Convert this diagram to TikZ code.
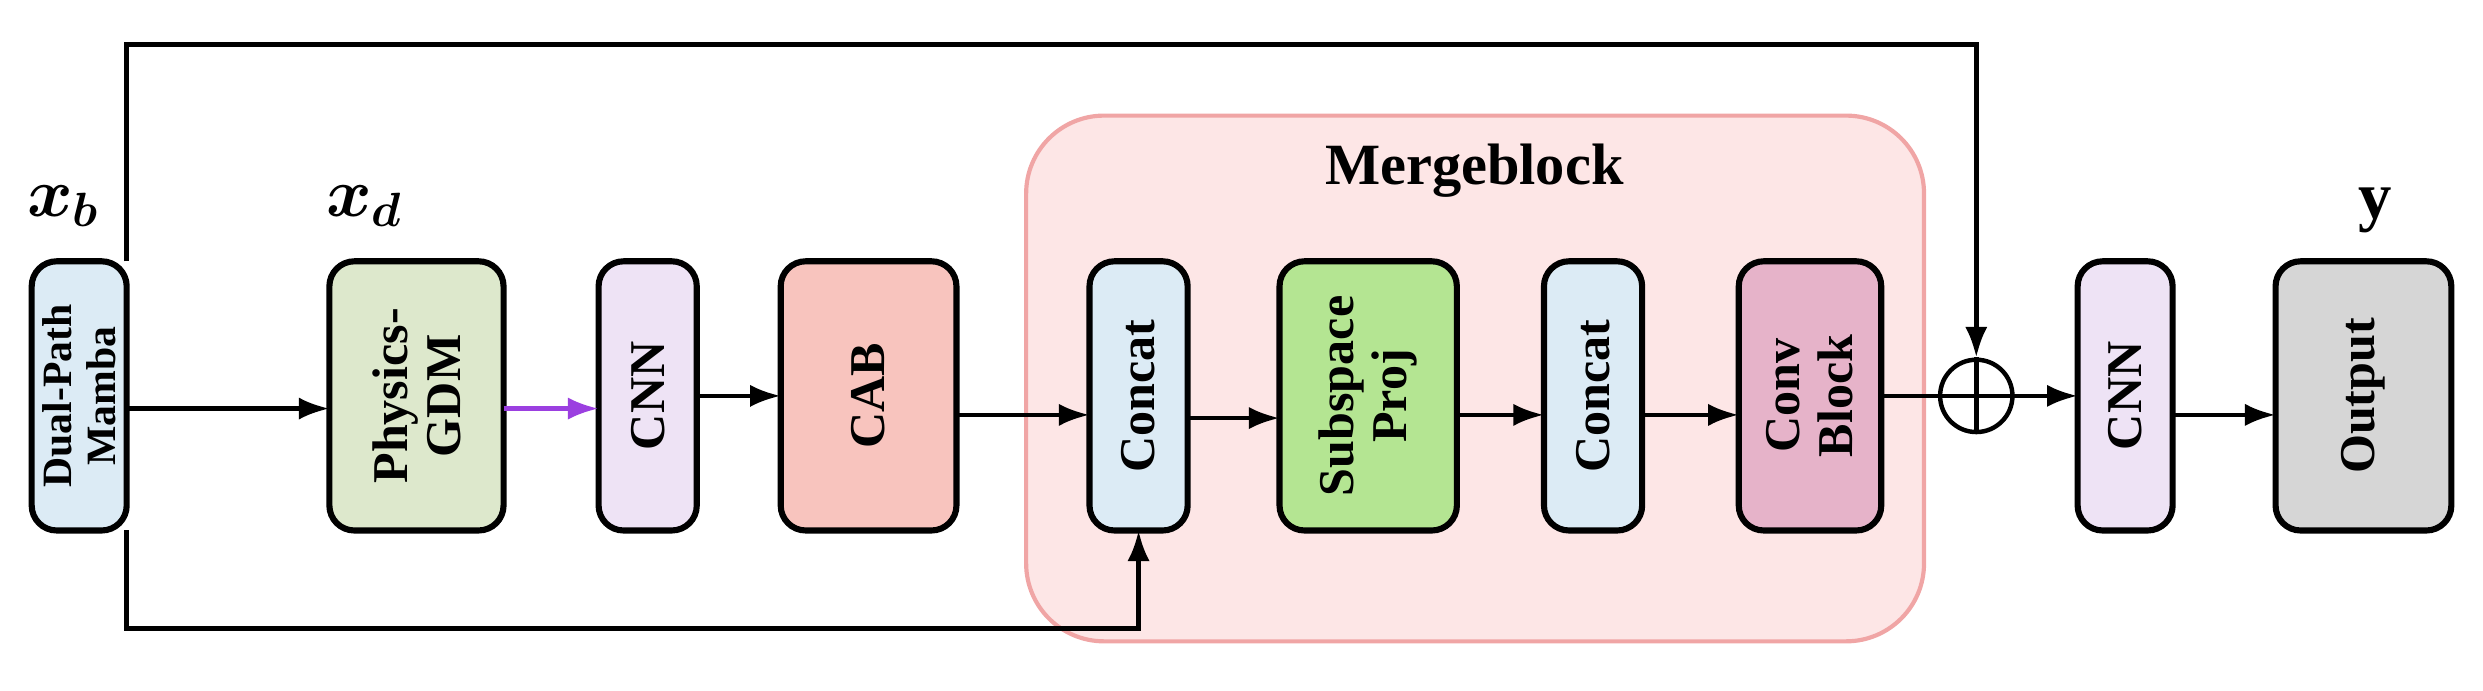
\documentclass[tikz,border=0pt]{standalone}
\usepackage{bm}
\usepackage{fontspec}
\setmainfont{Liberation Serif}
\usetikzlibrary{arrows.meta,calc}
\definecolor{cblue}{HTML}{DCEBF5}
\definecolor{cgreen}{HTML}{DDE8CC}
\definecolor{clav}{HTML}{EEE3F5}
\definecolor{csal}{HTML}{F8C4BE}
\definecolor{csub}{HTML}{B4E592}
\definecolor{cconv}{HTML}{E6B3C9}
\definecolor{cgray}{HTML}{D6D6D6}
\definecolor{mfill}{HTML}{FDE6E6}
\definecolor{mdraw}{HTML}{F0A5A5}
\definecolor{cpurp}{HTML}{9B3FE0}
\begin{document}
\begin{tikzpicture}[x=0.02cm,y=-0.02cm,
  blk/.style={draw,line width=2.2pt,rounded corners=9pt,inner sep=0pt},
  lbl/.style={rotate=90,font=\fontsize{18}{19}\selectfont\bfseries,align=center},
  arr/.style={-{Latex[length=11pt,width=8pt]},line width=1.6pt},
  ln/.style={line width=1.6pt}]
\useasboundingbox (0,0) rectangle (1568,436);
\fill[mfill,draw=mdraw,line width=1.5pt,rounded corners=28pt] (648,73) rectangle (1215,405);
\node[font=\fontsize{21}{22}\selectfont\bfseries] (mt) at (931,108) {Mergeblock};
\newcommand{\blkat}[6]{\path[blk,fill=#2] (#3,165) rectangle (#4,335);
  \node[lbl,#6] (#1) at ({(#3+#4)/2},250) {#5};
  \coordinate (#1w) at (#3,250); \coordinate (#1e) at (#4,250);
  \coordinate (#1b) at ({(#3+#4)/2},335);}
\blkat{mamba}{cblue}{20}{80}{Dual-Path\\Mamba}{font=\fontsize{15}{16}\selectfont\bfseries}
\blkat{phys}{cgreen}{208}{318}{Physics-\\GDM}{}
\blkat{cnna}{clav}{378}{440}{CNN}{}
\blkat{cab}{csal}{493}{604}{CAB}{}
\blkat{cat1}{cblue}{688}{750}{Concat}{}
\blkat{sub}{csub}{808}{920}{Subspace\\Proj}{}
\blkat{cat2}{cblue}{975}{1037}{Concat}{}
\blkat{conv}{cconv}{1098}{1188}{Conv\\Block}{}
\blkat{cnnb}{clav}{1312}{1372}{CNN}{}
\blkat{out}{cgray}{1437}{1548}{Output}{}
\node[circle,draw,line width=1.6pt,minimum size=26pt,inner sep=0pt] (plus) at (1248,250) {};
\draw[ln] (plus.north)--(plus.south) (plus.west)--(plus.east);
\node[font=\fontsize{24}{24}\selectfont] (xb) at (40,130) {$\bm{x_b}$};
\node[font=\fontsize{24}{24}\selectfont] (xd) at (230,130) {$\bm{x_d}$};
\node[font=\fontsize{24}{24}\selectfont\bfseries] (yy) at (1500,133) {y};
\draw[arr] ($(mambae)+(0,8)$) -- ($(physw)+(0,8)$);
\draw[arr,cpurp] ($(physe)+(0,8)$) -- ($(cnnaw)+(0,8)$);
\draw[arr] (cnnae) -- (cabw);
\draw[arr] ($(cabe)+(0,12)$) -- ($(cat1w)+(0,12)$);
\draw[arr] ($(cat1e)+(0,14)$) -- ($(subw)+(0,14)$);
\draw[arr] ($(sube)+(0,12)$) -- ($(cat2w)+(0,12)$);
\draw[arr] ($(cat2e)+(0,12)$) -- ($(convw)+(0,12)$);
\draw[ln] (conve) -- (plus.west);
\draw[arr] (plus.east) -- (cnnbw);
\draw[arr] ($(cnnbe)+(0,12)$) -- ($(outw)+(0,12)$);
\draw[arr] (80,165) -- (80,28) -- (1248,28) -- (plus.north);
\draw[arr] (80,335) -- (80,397) -- (719,397) -- (cat1b);
\end{tikzpicture}
\end{document}
